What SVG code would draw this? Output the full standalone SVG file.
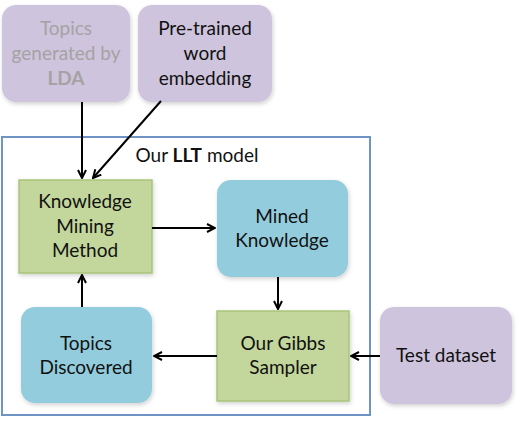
<svg xmlns="http://www.w3.org/2000/svg" width="520" height="422" viewBox="0 0 520 422">
<style>
text{font-family:Lato,"Open Sans","Liberation Sans",sans-serif;font-size:19px;fill:#111;text-anchor:middle}
.purple{fill:#CFC4DD}
.green{fill:#C3D69B;stroke:#A9C57A;stroke-width:1.5}
.blue{fill:#93CDDD}
.gray{fill:#A3A3A3}
.conn line{stroke:#000;stroke-width:2;marker-end:url(#arr)}
</style>
<defs>
<marker id="arr" viewBox="0 0 10 10" refX="9" refY="5" markerWidth="10" markerHeight="10" markerUnits="userSpaceOnUse" orient="auto">
<polyline points="1,1 9,5 1,9" fill="none" stroke="#000" stroke-width="2"/>
</marker>
<filter id="sh" x="-10%" y="-10%" width="125%" height="125%">
<feDropShadow dx="1" dy="2" stdDeviation="2" flood-color="#000" flood-opacity="0.18"/>
</filter>
</defs>
<rect id="frame" x="2" y="137" width="368" height="278" fill="#fff" stroke="#6E93C4" stroke-width="2"/>
<text x="197" y="162">Our <tspan font-weight="bold">LLT</tspan> model</text>
<g id="lda"><rect class="purple" x="2" y="5" width="128" height="97" rx="14" filter="url(#sh)"/>
<text class="gray" x="66" y="35">Topics</text><text class="gray" x="66" y="60">generated by</text><text class="gray" x="66" y="85" font-weight="bold">LDA</text></g>
<g id="emb"><rect class="purple" x="138" y="5" width="134" height="97" rx="14" filter="url(#sh)"/>
<text x="205" y="35">Pre-trained</text><text x="205" y="60">word</text><text x="205" y="85">embedding</text></g>
<g id="kmm"><rect class="green" x="19" y="180" width="133" height="93" filter="url(#sh)"/>
<text x="85" y="208">Knowledge</text><text x="85" y="233">Mining</text><text x="85" y="257">Method</text></g>
<g id="mk"><rect class="blue" x="217" y="180" width="131" height="97" rx="14" filter="url(#sh)"/>
<text x="282" y="223">Mined</text><text x="282" y="247">Knowledge</text></g>
<g id="td"><rect class="blue" x="21" y="307" width="131" height="96" rx="14" filter="url(#sh)"/>
<text x="86" y="350">Topics</text><text x="86" y="374">Discovered</text></g>
<g id="gibbs"><rect class="green" x="217" y="311" width="132" height="90" filter="url(#sh)"/>
<text x="283" y="350">Our Gibbs</text><text x="283" y="374">Sampler</text></g>
<g id="test"><rect class="purple" x="380" y="307" width="132" height="97" rx="14" filter="url(#sh)"/>
<text x="446" y="362">Test dataset</text></g>
<g class="conn" id="connectors">
<line x1="82" y1="102" x2="82" y2="178"/>
<line x1="161" y1="101" x2="93" y2="178"/>
<line x1="152" y1="228" x2="215" y2="228"/>
<line x1="278" y1="277" x2="278" y2="309"/>
<line x1="380" y1="356" x2="351" y2="356"/>
<line x1="217" y1="356" x2="154" y2="356"/>
<line x1="82" y1="307" x2="82" y2="275"/>
</g>
</svg>
